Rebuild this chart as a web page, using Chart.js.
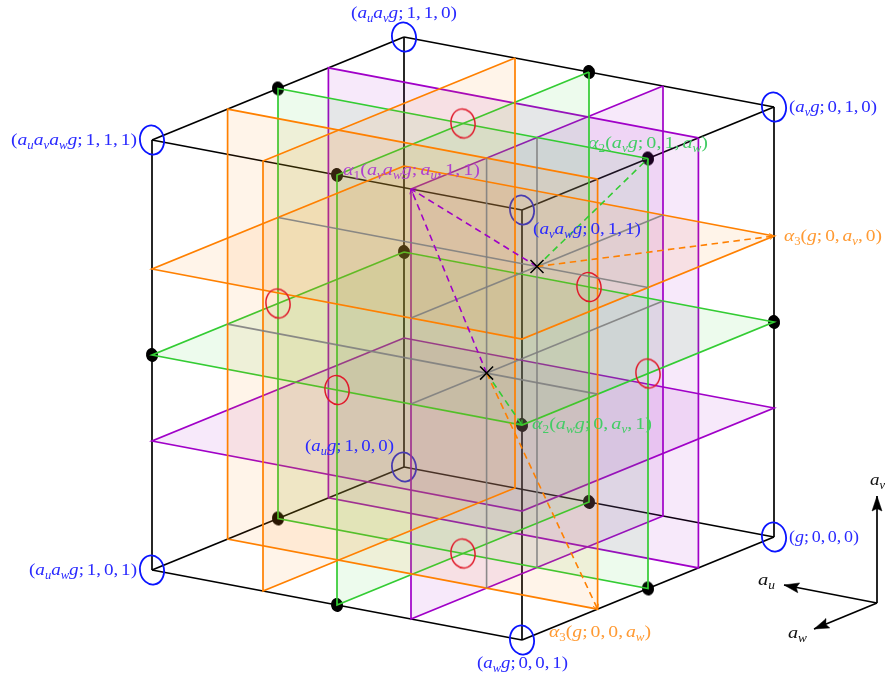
<!DOCTYPE html>
<html><head><meta charset="utf-8">
<script src="https://cdn.jsdelivr.net/npm/chart.js@4"></script>
<style>html,body{margin:0;padding:0;background:#fff}canvas{display:block}</style>
</head><body><canvas id="c" width="886" height="681"></canvas>
<script>
// ---- data ----
const origin = [774, 537];
const axisU = [-370, -70];
const axisV = [0, -430];
const axisW = [-252, 103];
const planeLevels = [0.3, 0.5, 0.7];
const planeColors = ['#a000c8', '#33cc33', '#ff8000'];
const planeFills = ['rgba(160,0,200,0.085)', 'rgba(51,204,51,0.085)', 'rgba(255,128,0,0.085)'];
const corners = [[0,0,0],[1,0,0],[0,1,0],[1,1,0],[0,0,1],[1,0,1],[0,1,1],[1,1,1]];
const cubeEdges = [[0,1],[0,2],[1,3],[2,3],[4,5],[4,6],[5,7],[6,7],[0,4],[1,5],[2,6],[3,7]];
const edgeDots = [[1,1,.5],[.5,1,0],[0,1,.5],[.5,1,1],[1,.5,0],[0,.5,0],[1,.5,1],[0,.5,1],[1,0,.5],[.5,0,0],[0,0,.5],[.5,0,1]];
const faceCentres = [[.5,1,.5],[.5,0,.5],[0,.5,.5],[1,.5,.5],[.5,.5,0],[.5,.5,1]];
const greyLines = [
  [[.3,1,.5],[.3,0,.5]], [[.3,1,.7],[.3,0,.7]],
  [[1,.7,.5],[0,.7,.5]], [[1,.5,.7],[0,.5,.7]],
  [[.3,.7,1],[.3,.7,0]], [[.3,.5,1],[.3,.5,0]]
];
const crossA = [.3,.7,.5];
const crossB = [.3,.5,.7];
const dashedLines = [
  [crossA,[.3,1,1],0],[crossB,[.3,1,1],0],
  [crossA,[0,1,.5],1],[crossB,[0,.5,1],1],
  [crossA,[0,.7,0],2],[crossB,[0,0,.7],2]
];
const triadOrigin = [877, 603];
const triadEnds = [[877,496],[784,585],[814,629]];
const BLUE='#2a2aff', ORANGE='#ff9a33', GREEN='#44cc66', PURPLE='#b040d0', INK='#111';
// label markup, left x, right x, baseline y, colour
const labels = [
  ['(a_ua_vg;1,1,0)',351,457,18,BLUE],
  ['(a_ua_va_wg;1,1,1)',11,137,145,BLUE],
  ['(a_vg;0,1,0)',789,877,112,BLUE],
  ['α_1(a_va_wg;a_u,1,1)',343,480,175,PURPLE],
  ['α_2(a_vg;0,1,a_w)',588,708,148,GREEN],
  ['(a_va_wg;0,1,1)',533,641,234,BLUE],
  ['α_3(g;0,a_v,0)',784,882,241,ORANGE],
  ['α_2(a_wg;0,a_v,1)',532,652,429,GREEN],
  ['(a_ug;1,0,0)',305,394,451,BLUE],
  ['(g;0,0,0)',789,859,542,BLUE],
  ['(a_ua_wg;1,0,1)',29,137,575,BLUE],
  ['α_3(g;0,0,a_w)',549,651,637,ORANGE],
  ['(a_wg;0,0,1)',477,568,668,BLUE],
  ['a_v',870,885,485,INK],
  ['a_u',758,775,585,INK],
  ['a_w',788,807,638,INK]
];
// ---- helpers ----
const P = ([u,v,w]) => ({x: origin[0]+u*axisU[0]+v*axisV[0]+w*axisW[0], y: origin[1]+u*axisU[1]+v*axisV[1]+w*axisW[1]});
function ellipseSprite(rx, ry, stroke, fill, lw){
  const c=document.createElement('canvas'); c.width=c.height=Math.ceil(2*ry+8);
  const g=c.getContext('2d'); g.translate(c.width/2,c.height/2);
  g.beginPath(); g.ellipse(0,0,rx,ry,-10*Math.PI/180,0,2*Math.PI);
  if(fill){g.fillStyle=fill;g.fill();}
  if(stroke){g.strokeStyle=stroke;g.lineWidth=lw;g.stroke();}
  return c;
}
const sets=[];
const line=(pts,color,lw,extra)=>sets.push(Object.assign({data:pts,showLine:true,borderColor:color,borderWidth:lw,pointRadius:0,tension:0,fill:false,borderCapStyle:'butt',borderJoinStyle:'miter'},extra||{}));
const marks=(pts,style)=>sets.push({data:pts,showLine:false,pointStyle:style,pointRadius:6,pointBorderWidth:0,pointBackgroundColor:'transparent'});
function head(from,to,len,half,notch,color){
  const d=Math.hypot(to.x-from.x,to.y-from.y),ux=(to.x-from.x)/d,uy=(to.y-from.y)/d;
  const at=(a,b)=>({x:to.x-ux*a-uy*b,y:to.y-uy*a+ux*b});
  line([to,at(len,half),at(len-notch,0),at(len,-half),to],color,0.5,{fill:'shape',backgroundColor:color});
}
function chevron(from,to,color){
  const d=Math.hypot(to.x-from.x,to.y-from.y),ux=(to.x-from.x)/d,uy=(to.y-from.y)/d;
  const at=(a,b)=>({x:to.x-ux*a-uy*b,y:to.y-uy*a+ux*b});
  line([at(4.5,3),to,at(4.5,-3)],color,1);
}
// ---- layers, bottom to top ----
cubeEdges.forEach(([a,b])=>line([P(corners[a]),P(corners[b])],'#000',1.7));
marks(edgeDots.map(P),ellipseSprite(6,7,null,'#000',0));
marks(corners.map(P),ellipseSprite(12,14.6,'#0a14ff',null,1.8));
const rects={
  u:l=>[[l,1,0],[l,1,1],[l,0,1],[l,0,0],[l,1,0]],
  v:l=>[[1,l,0],[1,l,1],[0,l,1],[0,l,0],[1,l,0]],
  w:l=>[[0,1,l],[1,1,l],[1,0,l],[0,0,l],[0,1,l]]
};
planeLevels.forEach((l,i)=>['v','u','w'].forEach(k=>
  line(rects[k](l).map(P),planeColors[i],1.7,{fill:'shape',backgroundColor:planeFills[i]})));
marks(faceCentres.map(P),ellipseSprite(12,14.6,'#e01c2c',null,1.5));
greyLines.forEach(([a,b])=>line([P(a),P(b)],'rgba(128,128,128,0.9)',1.6));
dashedLines.forEach(([a,b,c])=>{
  line([P(a),P(b)],planeColors[c],1.6,{borderDash:[6.5,4.5]});
  chevron(P(a),P(b),planeColors[c]);
});
sets.push({data:[P(crossA),P(crossB)],showLine:false,pointStyle:'crossRot',pointRadius:9.2,pointBorderColor:'#000',pointBorderWidth:1.5});
const tO={x:triadOrigin[0],y:triadOrigin[1]};
triadEnds.forEach(e=>{const t={x:e[0],y:e[1]};
  line([tO,t],'#000',1.7); head(tO,t,15,5,2.5,'#000');});
sets.forEach((d,i)=>{d.order=sets.length-i;});
// ---- text ----
function runsOf(src){
  const out=[]; let i=0;
  while(i<src.length){
    const ch=src[i];
    if(ch==='_'){out.push({t:src[i+1],sub:true,it:!/[0-9]/.test(src[i+1])});i+=2;continue;}
    const it=/[a-zα]/.test(ch);
    out.push({t:ch,it,gap:(ch===','||ch===';')});i++;
  }
  return out;
}
const SERIF='"Liberation Serif","DejaVu Serif",serif';
const labelPlugin={id:'labels',afterDatasetsDraw(ch){
  const ctx=ch.ctx,sx=ch.scales.x,sy=ch.scales.y;
  ctx.save(); ctx.textBaseline='alphabetic'; ctx.textAlign='left';
  labels.forEach(([src,x0,x1,y,col])=>{
    const runs=runsOf(src);
    const font=r=>`${r.it?'italic ':''}${r.sub?11.5:17.5}px ${SERIF}`;
    let w=0; runs.forEach(r=>{ctx.font=font(r);r.w=ctx.measureText(r.t).width+(r.gap?2.6:0);w+=r.w;});
    const k=(x1-x0)/w;
    ctx.fillStyle=col;
    let x=0; const px=sx.getPixelForValue(x0),py=sy.getPixelForValue(y);
    ctx.save(); ctx.translate(px,py); ctx.scale(k,1);
    runs.forEach(r=>{ctx.font=font(r);ctx.fillText(r.t,x,r.sub?3.5:0);x+=r.w;});
    ctx.restore();
  });
  ctx.restore();
}};
new Chart(document.getElementById('c'),{
  type:'scatter',
  data:{datasets:sets},
  options:{responsive:false,animation:false,events:[],
    layout:{padding:0,autoPadding:false},
    plugins:{legend:{display:false},tooltip:{enabled:false},title:{display:false}},
    scales:{x:{type:'linear',min:0,max:886,display:false},y:{type:'linear',min:0,max:681,reverse:true,display:false}},
    elements:{line:{capBezierPoints:false}}
  },
  plugins:[labelPlugin]
});
</script></body></html>
